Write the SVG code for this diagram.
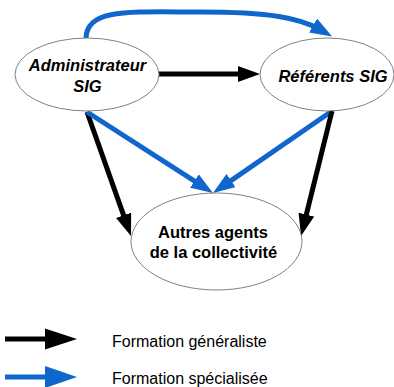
<svg xmlns="http://www.w3.org/2000/svg" width="394" height="387" viewBox="0 0 394 387">
<style>
.node{fill:#ffffff;stroke:#808080;stroke-width:1}
.lbl{font-family:"Liberation Sans",Arial,sans-serif;font-size:16.5px;font-weight:bold;fill:#000;text-anchor:middle}
.it{font-style:italic}
.blk{fill:none;stroke:#000;stroke-width:5}
.blu{fill:none;stroke:#0f66cc;stroke-width:5}
.leg{font-family:"Liberation Sans",Arial,sans-serif;font-size:16px;fill:#000}
</style>
<defs>
<marker id="hb" viewBox="0 0 22 16" refX="8" refY="8" markerWidth="22" markerHeight="16" markerUnits="userSpaceOnUse" orient="auto"><path d="M0,0 L22,8 L0,16 Z" fill="#000"/></marker>
<marker id="hu" viewBox="0 0 22 16" refX="8" refY="8" markerWidth="22" markerHeight="16" markerUnits="userSpaceOnUse" orient="auto"><path d="M0,0 L22,8 L0,16 Z" fill="#0f66cc"/></marker>
</defs>
<g id="connectors">
<path class="blu" d="M86,38 C87,8 130,12 200,12 C270,12 300,18 320,29.5" marker-end="url(#hu)"/>
<line class="blk" x1="159" y1="74" x2="246" y2="74" marker-end="url(#hb)"/>
<line class="blk" x1="87" y1="112" x2="126.3" y2="222.8" marker-end="url(#hb)"/>
<line class="blu" x1="87" y1="112" x2="201.2" y2="185.4" marker-end="url(#hu)"/>
<line class="blu" x1="332" y1="111" x2="224.5" y2="185.1" marker-end="url(#hu)"/>
<line class="blk" x1="332" y1="111" x2="304.4" y2="222.4" marker-end="url(#hb)"/>
</g>
<g id="admin">
<ellipse class="node" cx="87" cy="74.5" rx="72" ry="36.5"/>
<text class="lbl it" x="87.5" y="71">Administrateur</text>
<text class="lbl it" x="87.5" y="92">SIG</text>
</g>
<g id="referents">
<ellipse class="node" cx="327" cy="74.5" rx="67" ry="36.5"/>
<text class="lbl it" x="333" y="82">Référents SIG</text>
</g>
<g id="autres">
<ellipse class="node" cx="216.5" cy="241.5" rx="85.5" ry="48.5"/>
<text class="lbl" x="213" y="238">Autres agents</text>
<text class="lbl" x="213.5" y="258">de la collectivité</text>
</g>
<g id="legend">
<line x1="5" y1="339" x2="46" y2="339" stroke="#000" stroke-width="5"/>
<polygon points="45,328.5 77,339 45,349.5" fill="#000"/>
<text class="leg" x="112" y="347">Formation généraliste</text>
<line x1="5" y1="377" x2="46" y2="377" stroke="#0f66cc" stroke-width="5"/>
<polygon points="45,366 77,377 45,388" fill="#0f66cc"/>
<text class="leg" x="112" y="384">Formation spécialisée</text>
</g>
</svg>
